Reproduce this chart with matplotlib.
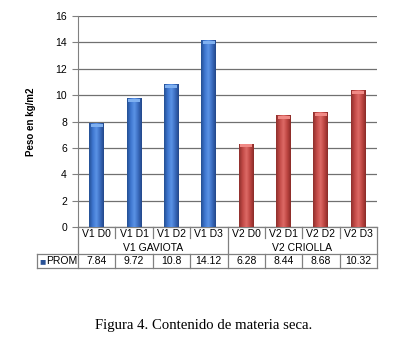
import matplotlib
matplotlib.use("Agg")
import matplotlib.pyplot as plt
import numpy as np
from matplotlib.colors import LinearSegmentedColormap

categories = ["V1 D0", "V1 D1", "V1 D2", "V1 D3", "V2 D0", "V2 D1", "V2 D2", "V2 D3"]
groups = ["V1 GAVIOTA", "V2 CRIOLLA"]
values = [7.84, 9.72, 10.8, 14.12, 6.28, 8.44, 8.68, 10.32]
value_labels = ["7.84", "9.72", "10.8", "14.12", "6.28", "8.44", "8.68", "10.32"]
series_name = "PROM"
yticks = [0, 2, 4, 6, 8, 10, 12, 14, 16]

plt.rcParams['font.family'] = ['Liberation Sans', 'DejaVu Sans']

fig = plt.figure(figsize=(4.0, 3.48), dpi=100)
ax = fig.add_axes([0.195, 0.3477, 0.7475, 0.6063])

n = len(categories)
x = np.arange(n)
bw = 0.4
blue_cmap = LinearSegmentedColormap.from_list("b", ["#244f93", "#3e76cf", "#5b93e6", "#3a6cbf", "#23478a"])
red_cmap = LinearSegmentedColormap.from_list("r", ["#8f2f2c", "#c24a47", "#dd6a66", "#be4642", "#8a2b28"])
grad = np.linspace(0, 1, 64).reshape(1, -1)
for i, v in enumerate(values):
    cmap = blue_cmap if i < 4 else red_cmap
    ax.imshow(grad, cmap=cmap, aspect="auto", extent=(x[i] - bw / 2, x[i] + bw / 2, 0, v),
              zorder=3, interpolation="bilinear")
    top = "#7fb0f0" if i < 4 else "#f08a86"
    ax.bar(x[i], 0.25, bottom=v - 0.25, width=bw * 0.8, color=top, zorder=4, linewidth=0)

ax.set_xlim(-0.5, n - 0.5)
ax.set_ylim(0, 16)
ax.set_yticks(yticks)
ax.set_yticklabels([str(t) for t in yticks], fontsize=7.5)
ax.tick_params(axis="y", length=4, color="#808080", pad=4)
ax.set_xticks([])
ax.yaxis.grid(True, color="#707070", linewidth=0.9)
ax.set_axisbelow(True)
for s in ["top", "right", "bottom"]:
    ax.spines[s].set_visible(False)
ax.spines["left"].set_color("#808080")
ax.set_ylabel("Peso en kg/m2", fontsize=7, fontweight="bold", labelpad=14)

# data table below the axes, in axes-fraction y and data x
tr = ax.get_xaxis_transform()
px = 1.0 / (0.6063 * 348)  # one pixel in axes fraction
r1 = -14 * px
r2 = -27 * px
r3 = -41 * px
lc = "#808080"
lw = 0.9
kw = dict(transform=tr, color=lc, lw=lw, clip_on=False)
ax.plot([-0.5, n - 0.5], [0, 0], **kw)
ax.plot([-0.5 - 1.1, n - 0.5], [r2, r2], **kw)
ax.plot([-0.5 - 1.1, n - 0.5], [r3, r3], **kw)
ax.plot([-0.5, -0.5], [0, r3], **kw)
ax.plot([n - 0.5, n - 0.5], [0, r3], **kw)
ax.plot([-0.5 - 1.1, -0.5 - 1.1], [r2, r3], **kw)
for i in range(1, n):
    if i == 4:
        ax.plot([i - 0.5, i - 0.5], [0, r2], **kw)
    else:
        ax.plot([i - 0.5, i - 0.5], [0, -11 * px], **kw)
    ax.plot([i - 0.5, i - 0.5], [r2, r3], **kw)
for i, c in enumerate(categories):
    ax.text(x[i], r1 / 2, c, transform=tr, ha="center", va="center", fontsize=7.5)
    ax.text(x[i], (r2 + r3) / 2, value_labels[i], transform=tr, ha="center", va="center", fontsize=7.5)
ax.text(1.5, (r1 + r2) / 2, groups[0], transform=tr, ha="center", va="center", fontsize=7.5)
ax.text(5.5, (r1 + r2) / 2, groups[1], transform=tr, ha="center", va="center", fontsize=7.5)
ax.text(-0.5 - 1.04, (r2 + r3) / 2, "\u25a0", transform=tr, ha="left", va="center", fontsize=7.5, color="#2a5296")
ax.text(-0.5 - 0.86, (r2 + r3) / 2, series_name, transform=tr, ha="left", va="center", fontsize=7.5)

fig.text(204 / 400, 1 - 326 / 348, "Figura 4. Contenido de materia seca.", ha="center", va="center",
         fontsize=10.6, family=["Liberation Serif", "DejaVu Serif"])

fig.savefig("out.png", dpi=100)
